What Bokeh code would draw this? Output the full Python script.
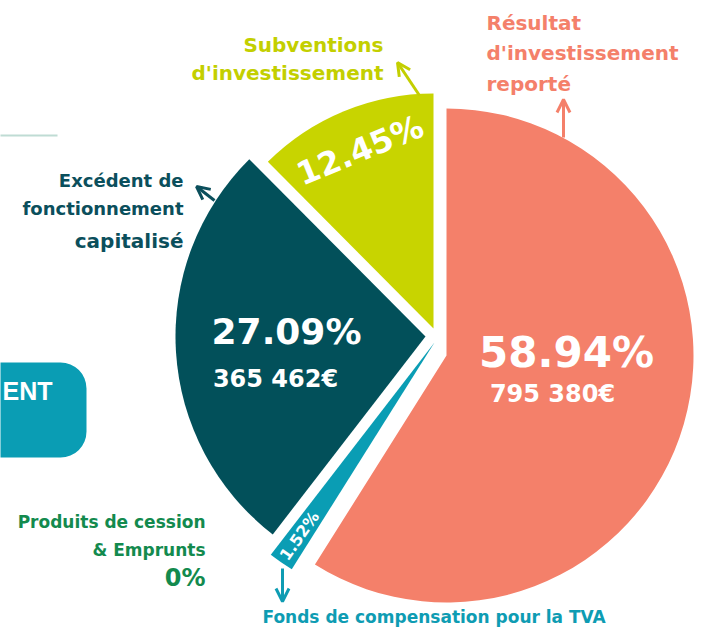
import numpy as np
from bokeh.plotting import figure
from bokeh.models import Range1d, Arrow, OpenHead, BoxAnnotation
from bokeh.core.properties import value
from bokeh.embed import file_html
from bokeh.resources import INLINE

# ---------------- data ----------------
categories = ["Résultat d'investissement reporté",
              "Fonds de compensation pour la TVA",
              "Excédent de fonctionnement capitalisé",
              "Subventions d'investissement",
              "Produits de cession & Emprunts"]
percentages = [58.94, 1.52, 27.09, 12.45, 0.0]
amounts = [795380, None, 365462, None, None]
label_lines = [["Résultat", "d'investissement", "reporté"],
               ["Fonds de compensation pour la TVA"],
               ["Excédent de", "fonctionnement", "capitalisé"],
               ["Subventions", "d'investissement"],
               ["Produits de cession", "& Emprunts"]]

# ---------------- styles / layout ----------------
colors = ["#F4806A", "#0A9DB4", "#02505A", "#C8D400", "#138A4E"]
text_colors = ["#F4806A", "#0E9CB3", "#0B4F5C", "#C3CF00", "#138A4E"]
H = 629
def Y(v):
    return H - v

# per-slice exploded centre (screen px) and radius
centres = [(446, 355), (434, 342), (425, 336), (433, 328), (436, 340)]
radii = [247, 268, 250, 235, 0]
FONT = "DejaVu Sans"

p = figure(width=700, height=628, x_range=Range1d(0, 700), y_range=Range1d(1, 629),
           output_backend="svg", toolbar_location=None, min_border=0,
           x_axis_type=None, y_axis_type=None)
p.grid.visible = False
p.outline_line_color = None

# ---------------- decorations on the left ----------------
p.segment(x0=[-10], y0=[Y(135)], x1=[57], y1=[Y(135)], line_color="#BFDCD4", line_width=2)
p.add_layout(BoxAnnotation(left=-40, right=86, top=Y(362), bottom=Y(457),
                           fill_color="#0A9DB4", fill_alpha=1, line_color=None,
                           border_radius=26, level="underlay"))
p.text(x=[52], y=[Y(390)], text=["ENT"], text_color="white", text_font=value("Liberation Sans"),
       text_font_style="bold", text_font_size="25px", text_align="right", text_baseline="middle")

# ---------------- pie slices ----------------
cum = np.cumsum([0.0] + percentages)
theta0 = cum[:-1] * 3.6
theta1 = cum[1:] * 3.6
for i, pct in enumerate(percentages):
    if pct <= 0:
        continue
    cx, cy = centres[i]
    p.wedge(x=[cx], y=[Y(cy)], radius=radii[i],
            start_angle=[90 - theta1[i]], end_angle=[90 - theta0[i]],
            start_angle_units="deg", end_angle_units="deg",
            fill_color=colors[i], line_color=None)

def fmt_amount(a):
    return f"{a:,.0f}".replace(",", " ") + "€"

# big horizontal labels in salmon and dark teal slices
pct_pos = {0: (566, 352), 2: (286, 331)}
amt_pos = {0: (552, 393), 2: (275, 378)}
pct_size = {0: "42px", 2: "36px"}
for i in (0, 2):
    x, y = pct_pos[i]
    p.text(x=[x], y=[Y(y)], text=[f"{percentages[i]:.2f}%"], text_color="white",
           text_font=value(FONT), text_font_style="bold", text_font_size=pct_size[i],
           text_align="center", text_baseline="middle")
    x, y = amt_pos[i]
    p.text(x=[x], y=[Y(y)], text=[fmt_amount(amounts[i])], text_color="white",
           text_font=value(FONT), text_font_style="bold", text_font_size="24px",
           text_align="center", text_baseline="middle")

# rotated labels placed along the bisector of the slice
for i, frac, size, flip in ((3, 0.82, "32px", -90), (1, 0.88, "16px", 180)):
    bis = np.deg2rad(90 - (theta0[i] + theta1[i]) / 2)
    cx, cy = centres[i]
    x = cx + frac * radii[i] * np.cos(bis)
    y = Y(cy) + frac * radii[i] * np.sin(bis)
    p.text(x=[x], y=[y], text=[f"{percentages[i]:.2f}%"], text_color="white",
           text_font=value(FONT), text_font_style="bold", text_font_size=size,
           angle=[bis + np.deg2rad(flip)], text_align="center", text_baseline="middle")

# ---------------- outer labels ----------------
def lines(i, xs, ys, align, sizes):
    for txt, yy, sz in zip(label_lines[i], ys, sizes):
        p.text(x=[xs], y=[Y(yy)], text=[txt],
               text_color=text_colors[i], text_font=value(FONT), text_font_style="bold",
               text_font_size=sz, text_align=align, text_baseline="middle")

lines(0, 486, [22, 52, 83], "left", ["20px"] * 3)
lines(3, 383, [44, 72], "right", ["20px"] * 2)
lines(2, 183, [180, 208, 240], "right", ["18px", "18px", "20px"])
lines(4, 205, [521, 549], "right", ["17px"] * 2)
lines(1, 262, [616], "left", ["17px"])
p.text(x=[205], y=[Y(577)], text=[f"{percentages[4]:.0f}%"], text_color=text_colors[4],
       text_font=value(FONT), text_font_style="bold", text_font_size="24px",
       text_align="right", text_baseline="middle")

# ---------------- arrows ----------------
arrows = [(0, 563, 137, 563, 99), (3, 419, 95, 397, 62), (2, 214, 200, 196, 186), (1, 282, 568, 282, 601)]
for i, xs, ys, xe, ye in arrows:
    p.add_layout(Arrow(end=OpenHead(size=13, line_color=text_colors[i], line_width=3),
                       x_start=xs, y_start=Y(ys), x_end=xe, y_end=Y(ye),
                       line_color=text_colors[i], line_width=3))

open("out.html", "w").write(file_html(p, INLINE))
